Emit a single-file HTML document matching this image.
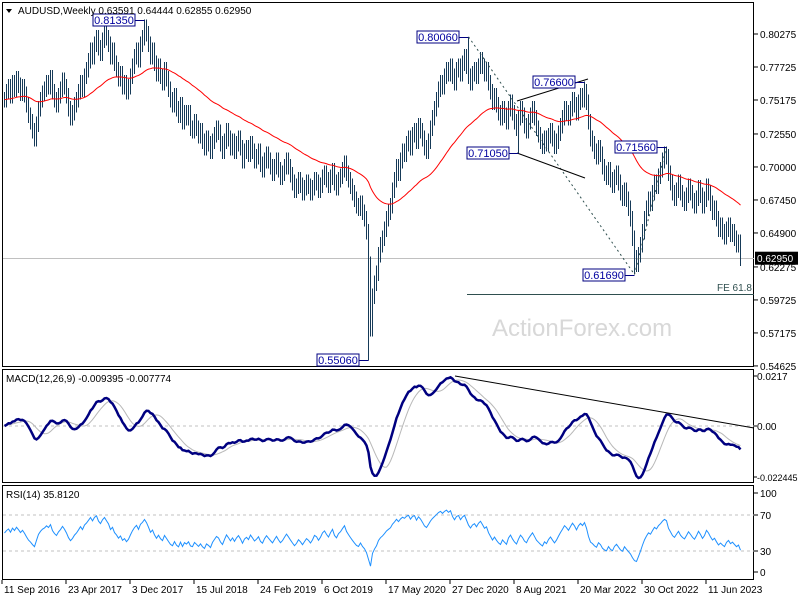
<!DOCTYPE html>
<html><head><meta charset="utf-8"><style>
body{margin:0;background:#fff;}
svg{display:block;font-family:"Liberation Sans",sans-serif;}
</style></head><body>
<svg id="c" width="800" height="600" viewBox="0 0 800 600"></svg>
<script>
const closes=[
0.752,0.758,0.762,0.755,0.765,0.760,0.768,0.763,0.757,0.762,0.756,
0.748,0.740,0.735,0.728,0.722,0.733,0.745,0.752,0.757,0.760,
0.765,0.762,0.769,0.758,0.752,0.748,0.755,0.760,0.767,0.762,
0.755,0.745,0.738,0.742,0.748,0.752,0.758,0.765,0.760,0.770,
0.775,0.782,0.790,0.785,0.795,0.800,0.792,0.788,0.798,0.805,
0.800,0.795,0.785,0.790,0.780,0.775,0.768,0.772,0.762,0.765,
0.758,0.762,0.770,0.778,0.785,0.790,0.783,0.795,0.800,0.808,
0.803,0.795,0.785,0.790,0.780,0.772,0.778,0.770,0.765,0.775,
0.768,0.760,0.752,0.748,0.755,0.745,0.740,0.748,0.735,0.742,
0.738,0.742,0.730,0.728,0.735,0.730,0.724,0.728,0.720,0.715,
0.722,0.718,0.712,0.720,0.725,0.730,0.727,0.718,0.712,0.720,
0.728,0.722,0.715,0.720,0.712,0.718,0.722,0.715,0.705,0.712,
0.715,0.710,0.718,0.712,0.705,0.708,0.712,0.702,0.698,0.705,
0.710,0.705,0.700,0.695,0.700,0.705,0.698,0.692,0.695,0.700,
0.705,0.700,0.694,0.688,0.682,0.685,0.690,0.686,0.680,0.684,
0.688,0.685,0.680,0.684,0.690,0.688,0.682,0.686,0.692,0.695,
0.690,0.686,0.692,0.697,0.688,0.684,0.690,0.693,0.698,0.703,
0.695,0.690,0.685,0.680,0.675,0.670,0.668,0.672,0.665,0.660,
0.650,0.625,0.575,0.600,0.610,0.618,0.632,0.640,0.645,0.652,
0.660,0.665,0.670,0.682,0.690,0.700,0.695,0.705,0.712,0.710,
0.718,0.722,0.715,0.725,0.728,0.720,0.732,0.728,0.722,0.715,
0.712,0.720,0.730,0.738,0.745,0.752,0.760,0.765,0.762,0.770,
0.775,0.772,0.778,0.770,0.765,0.775,0.778,0.772,0.780,0.785,
0.778,0.770,0.765,0.772,0.775,0.770,0.778,0.783,0.778,0.772,
0.775,0.765,0.758,0.750,0.755,0.748,0.742,0.738,0.745,0.740,
0.735,0.745,0.750,0.742,0.735,0.730,0.738,0.745,0.740,0.732,
0.728,0.735,0.740,0.745,0.738,0.730,0.725,0.720,0.716,0.722,
0.718,0.724,0.728,0.722,0.716,0.720,0.726,0.732,0.738,0.745,
0.742,0.738,0.745,0.752,0.748,0.742,0.750,0.755,0.752,0.758,
0.750,0.735,0.722,0.718,0.712,0.708,0.715,0.710,0.700,0.695,
0.692,0.698,0.690,0.686,0.692,0.695,0.688,0.680,0.676,0.682,
0.675,0.668,0.660,0.645,0.630,0.625,0.632,0.640,0.650,0.660,
0.668,0.675,0.672,0.680,0.688,0.685,0.693,0.698,0.705,0.710,
0.708,0.695,0.688,0.680,0.676,0.682,0.688,0.680,0.675,0.672,
0.678,0.685,0.680,0.674,0.670,0.676,0.684,0.678,0.670,0.675,
0.685,0.680,0.672,0.665,0.668,0.660,0.652,0.655,0.650,0.646,
0.652,0.655,0.648,0.650,0.645,0.640,0.642,0.6295];
const pivotIdx=[51,70,182,232,290,257,331,315];
const pivotVal=[0.8135,0.8135,0.5506,0.8006,0.7660,0.7105,0.7156,0.6169];
const pivotLbl=["","0.81350","0.55060","0.80060","0.76600","0.71050","0.71560","0.61690"];
const priceTicks=["0.80275","0.77725","0.75175","0.72550","0.70000","0.67450","0.64900","0.62275","0.59725","0.57175","0.54625"];
const dateLabels=["11 Sep 2016","23 Apr 2017","3 Dec 2017","15 Jul 2018","24 Feb 2019","6 Oct 2019","17 May 2020","27 Dec 2020","8 Aug 2021","20 Mar 2022","30 Oct 2022","11 Jun 2023"];
const rsiTicks=[100,70,30,0];

const S=document.getElementById('c');const NS='http://www.w3.org/2000/svg';
function el(t,a,p){const e=document.createElementNS(NS,t);for(const k in a)e.setAttribute(k,a[k]);(p||S).appendChild(e);return e;}
const X=i=>4.5+2*i;
const PY=p=>34+(0.80275-p)*1294.1;
const MY=v=>426-v*2300;
const RY=v=>578-v*0.9;
const FS=10;

let f;
f=el('rect',{x:2.5,y:2.5,width:751,height:364,fill:'none',stroke:'#000'});


f=el('rect',{x:2.5,y:369.5,width:751,height:113,fill:'none',stroke:'#000'});


f=el('rect',{x:2.5,y:485.5,width:751,height:94,fill:'none',stroke:'#000'});



priceTicks.forEach((t,k)=>{const y=PY(parseFloat(t));
 el('line',{x1:754,x2:758,y1:y,y2:y,stroke:'#000'});
 const tx=el('text',{x:760,y:y+4,'font-size':FS,fill:'#000'});tx.textContent=t;
 
 });

const lp=closes[closes.length-1];
el('line',{x1:3,x2:754,y1:Math.round(PY(lp))+0.5,y2:Math.round(PY(lp))+0.5,stroke:'#c0c0c0'});
const fe=el('line',{x1:467,x2:754,y1:294.5,y2:294.5,stroke:'#2f4f4f'});


let t=el('text',{x:752,y:291,'font-size':FS,fill:'#2f4f4f','text-anchor':'end'});t.textContent='FE 61.8';



t=el('text',{x:492,y:336,'font-size':24,fill:'#d8d8d8'});t.textContent='ActionForex.com';



const hi=[],lo=[];
closes.forEach((c,i)=>{const o=i?closes[i-1]:c;hi.push(Math.max(o,c)+0.006);lo.push(Math.min(o,c)-0.006);});
pivotIdx.forEach((ix,k)=>{const v=pivotVal[k];if(v>hi[ix])hi[ix]=v;if(v<lo[ix])lo[ix]=v;});
const bg=el('g',{stroke:'#163a58','stroke-width':1,'shape-rendering':'crispEdges'});


closes.forEach((c,i)=>{const b=el('line',{x1:X(i),x2:X(i),y1:PY(hi[i]),y2:PY(lo[i])},bg);
 
 });

function ema(a,n){const k=2/(n+1);const r=[];a.forEach((v,i)=>r.push(i?v*k+r[i-1]*(1-k):v));return r;}
const ma=ema(closes,55);
let pl=el('polyline',{points:ma.map((v,i)=>X(i)+','+PY(v)).join(' '),fill:'none',stroke:'#ff0000','stroke-width':1});



const tl=(x1,y1,x2,y2,dash,name)=>{const l=el('line',{x1,y1,x2,y2,stroke:dash?'#2f4f4f':'#000','stroke-dasharray':dash?'2,3':'none'});
 };
tl(X(232),PY(0.8006),X(315),PY(0.6169),true,'dashed-trendline');
tl(X(315),PY(0.6169),X(331),PY(0.7156),true,'dashed-rebound-line');
tl(517,101,588,79,false,'channel-upper');
tl(517,153,585,178,false,'channel-lower');

pivotIdx.forEach((ix,k)=>{if(!pivotLbl[k])return;const v=pivotVal[k];const y=Math.round(PY(v))+0.5;
 const bx=Math.round(X(ix))-10-42,by=y-6.5;
 const g=el('g',{});
 
 
 el('line',{x1:bx+42,x2:X(ix),y1:y,y2:y,stroke:'#000080'},g);
 el('rect',{x:bx,y:by,width:42,height:12,fill:'#fff',stroke:'#000080'},g);
 const tx=el('text',{x:bx+21,y:by+10,'font-size':FS+1,fill:'#0000a0','text-anchor':'middle'},g);tx.textContent=pivotLbl[k];});

el('rect',{x:755,y:PY(lp)-6.5,width:43,height:13,fill:'#000'});
t=el('text',{x:757,y:PY(lp)+4,'font-size':FS,fill:'#fff'});t.textContent=lp.toFixed(5);



el('path',{d:'M6 9 L12 9 L9 13 Z',fill:'#000'});
t=el('text',{x:18,y:14,'font-size':FS,fill:'#000'});t.textContent='AUDUSD,Weekly  0.63591 0.64444 0.62855 0.62950';



const e12=ema(closes,12),e26=ema(closes,26);
const macd=closes.map((c,i)=>e12[i]-e26[i]);
const sig=[];
for(let i=0;i<macd.length;i++){let s=0,n=0;for(let j=Math.max(0,i-8);j<=i;j++){s+=macd[j];n++;}sig[i]=s/n;}
el('line',{x1:3,x2:754,y1:MY(0),y2:MY(0),stroke:'#c0c0c0','stroke-dasharray':'3,3'});
pl=el('polyline',{points:sig.map((v,i)=>X(i)+','+MY(v)).join(' '),fill:'none',stroke:'#b8b8b8','stroke-width':1});


pl=el('polyline',{points:macd.map((v,i)=>X(i)+','+MY(v)).join(' '),fill:'none',stroke:'#000080','stroke-width':2.5});


tl(455,376,754,428,false,'macd-trendline');
[['0.0217',376],['0.00',426],['-0.022445',477]].forEach(a=>{el('line',{x1:754,x2:757,y1:a[1],y2:a[1],stroke:'#000'});
 const tx=el('text',{x:757,y:a[1]+4,'font-size':a[0].length>7?9:FS,fill:'#000'});tx.textContent=a[0];
 
 });
t=el('text',{x:6,y:382,'font-size':FS,fill:'#000'});t.textContent='MACD(12,26,9) -0.009395 -0.007774';



const rsi=[];let ag=0.004,al=0.004;
closes.forEach((c,i)=>{if(!i){rsi.push(50);return;}const d=c-closes[i-1];const g=Math.max(d,0),l=Math.max(-d,0);
 ag=(ag*13+g)/14;al=(al*13+l)/14;rsi.push(al===0?100:100-100/(1+ag/al));});
[70,30].forEach(v=>el('line',{x1:3,x2:754,y1:RY(v),y2:RY(v),stroke:'#c0c0c0','stroke-dasharray':'3,3'}));
pl=el('polyline',{points:rsi.map((v,i)=>X(i)+','+RY(v)).join(' '),fill:'none',stroke:'#1e90ff','stroke-width':1});


rsiTicks.forEach(v=>{const y=v===100?493:v===0?572:RY(v);el('line',{x1:754,x2:758,y1:y,y2:y,stroke:'#000'});
 const tx=el('text',{x:760,y:y+4,'font-size':FS,fill:'#000'});tx.textContent=v;
 
 });
t=el('text',{x:6,y:498,'font-size':FS,fill:'#000'});t.textContent='RSI(14) 35.8120';



dateLabels.forEach((d,k)=>{const x=2+k*64;el('line',{x1:x,x2:x,y1:580,y2:584,stroke:'#000'});
 const tx=el('text',{x:x+2,y:593,'font-size':FS,fill:'#000'});tx.textContent=d;
 
 });
</script>
</body></html>
